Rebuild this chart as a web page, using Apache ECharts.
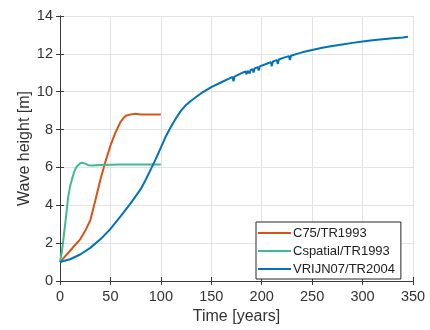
<!DOCTYPE html>
<html><head><meta charset="utf-8">
<script src="https://cdn.jsdelivr.net/npm/echarts@6/dist/echarts.min.js"></script>
<style>html,body{margin:0;padding:0;background:#fff}#c{width:430px;height:330px}</style>
</head><body><div id="c"></div>
<script>
const seriesNames = ['C75/TR1993', 'Cspatial/TR1993', 'VRIJN07/TR2004'];
const xTicks = [0, 50, 100, 150, 200, 250, 300, 350];
const yTicks = [0, 2, 4, 6, 8, 10, 12, 14];

const c75T = [0,5,10,15,20,25,30,35,40,45,50,55,60,63,66,70,75,80,85,90,95,100];
const c75V = [1.0,1.3,1.6,1.9,2.2,2.65,3.2,4.25,5.35,6.3,7.15,7.85,8.4,8.62,8.75,8.8,8.83,8.8,8.8,8.8,8.8,8.8];

const cspT = [0,2,4,6,8,10,12,14,16,18,20,22,25,28,32,40,60,80,100];
const cspV = [1.0,1.6,2.5,3.4,4.4,5.0,5.4,5.75,6.0,6.12,6.22,6.25,6.2,6.12,6.1,6.13,6.15,6.15,6.15];

const vrT = [0,10,20,30,40,50,60,70,80,85,90,95,100,105,110,115,120,125,130,140,150,160,168,171,172,173,180,184,185,186,187,188,189,190,191,192,193,196,197,198,205,209,210,211,215,216,217,222,227,228,229,235,240,250,260,270,280,290,300,310,320,330,340,345];
const vrV = [1.0,1.15,1.4,1.75,2.2,2.75,3.42,4.1,4.85,5.35,5.9,6.45,7.05,7.65,8.15,8.6,9.0,9.3,9.52,9.92,10.24,10.5,10.7,10.78,10.55,10.8,10.98,11.07,10.92,11.1,11.12,10.97,11.15,11.17,11.19,11.02,11.23,11.3,11.12,11.34,11.48,11.56,11.35,11.6,11.67,11.47,11.7,11.8,11.88,11.68,11.9,12.0,12.08,12.2,12.32,12.42,12.5,12.58,12.65,12.72,12.77,12.82,12.87,12.9];

const colors = ['#D95319', '#3DBC8E', '#0072BD'];
const pairs = (t, v) => t.map((x, i) => [x, v[i]]);

const axisColor = '#3a3a3a';
const font = 'Liberation Sans, Arial, sans-serif';
const chart = echarts.init(document.getElementById('c'), null, {renderer: 'canvas'});
chart.setOption({
  animation: false,
  backgroundColor: '#fff',
  textStyle: {fontFamily: font},
  grid: {left: 60, right: 17, top: 16, bottom: 44, containLabel: false},
  legend: {
    data: seriesNames,
    orient: 'vertical',
    left: 256, top: 222,
    backgroundColor: '#fff',
    borderColor: '#262626', borderWidth: 1,
    padding: [4, 6, 3, 2],
    itemGap: 4,
    itemWidth: 33, itemHeight: 2,
    icon: 'rect',
    textStyle: {fontSize: 13, color: '#222', fontFamily: font, lineHeight: 14, padding: [0,0,0,-3]}
  },
  xAxis: [{
    type: 'value', min: 0, max: 350, interval: 50,
    name: 'Time [years]', nameLocation: 'middle', nameGap: 28, nameMoveOverlap: false,
    nameTextStyle: {fontSize: 16, color: '#333', fontFamily: font},
    axisLine: {show: true, lineStyle: {color: axisColor, width: 1}},
    axisTick: {show: true, inside: true, length: 4, lineStyle: {color: axisColor}},
    axisLabel: {fontSize: 14.5, color: '#333', margin: 8, fontFamily: font,
      formatter: v => xTicks.includes(v) ? String(v) : ''},
    splitLine: {show: true, lineStyle: {color: '#e3e3e3', width: 1}}
  }, {
    type: 'value', min: 0, max: 350, interval: 50, position: 'top',
    axisLine: {show: true, lineStyle: {color: axisColor, width: 1}},
    axisTick: {show: true, inside: true, length: 4, lineStyle: {color: axisColor}},
    axisLabel: {show: false}, splitLine: {show: false}
  }],
  yAxis: [{
    type: 'value', min: 0, max: 14, interval: 2,
    name: 'Wave height [m]', nameLocation: 'middle', nameGap: 27, nameMoveOverlap: false,
    nameTextStyle: {fontSize: 16, color: '#333', fontFamily: font},
    axisLine: {show: true, lineStyle: {color: axisColor, width: 1}},
    axisTick: {show: true, inside: true, length: 4, lineStyle: {color: axisColor}},
    axisLabel: {fontSize: 14.5, color: '#333', margin: 7, fontFamily: font,
      formatter: v => yTicks.includes(v) ? String(v) : ''},
    splitLine: {show: true, lineStyle: {color: '#e3e3e3', width: 1}}
  }, {
    type: 'value', min: 0, max: 14, interval: 2, position: 'right',
    axisLine: {show: true, lineStyle: {color: axisColor, width: 1}},
    axisTick: {show: true, inside: true, length: 4, lineStyle: {color: axisColor}},
    axisLabel: {show: false}, splitLine: {show: false}
  }],
  series: [
    {name: seriesNames[0], type: 'line', data: pairs(c75T, c75V), showSymbol: false, symbol: 'none',
      lineStyle: {color: colors[0], width: 2}, itemStyle: {color: colors[0]}},
    {name: seriesNames[1], type: 'line', data: pairs(cspT, cspV), showSymbol: false, symbol: 'none',
      lineStyle: {color: colors[1], width: 2}, itemStyle: {color: colors[1]}},
    {name: seriesNames[2], type: 'line', data: pairs(vrT, vrV), showSymbol: false, symbol: 'none',
      lineStyle: {color: colors[2], width: 2}, itemStyle: {color: colors[2]}}
  ]
});
</script></body></html>
